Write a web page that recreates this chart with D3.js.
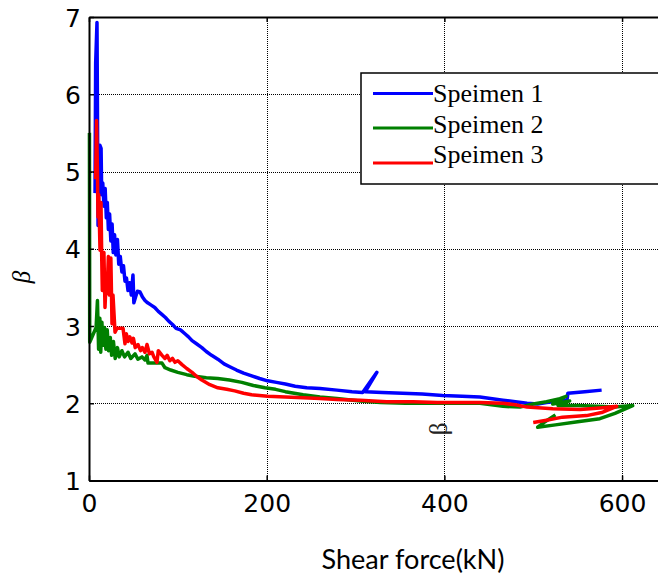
<!DOCTYPE html>
<html>
<head>
<meta charset="utf-8">
<script src="https://cdn.jsdelivr.net/npm/d3@7/dist/d3.min.js"></script>
<style>
  html, body { margin: 0; padding: 0; background: #fff; }
  svg { display: block; }
</style>
</head>
<body>
<div id="chart"></div>
<script>
// beta vs shear force, three specimens

const xTicks = [0, 200, 400, 600];
const yTicks = [1, 2, 3, 4, 5, 6, 7];
const seriesNames = ['Speimen 1', 'Speimen 2', 'Speimen 3'];
const seriesColors = ['#0000ff', '#008000', '#ff0000'];

// [shear force kN, beta]
const specimen1 = [
  [6.8,4.72],[7.5,6.40],[9.0,6.93],[9.6,5.6],[10.2,4.30],[11.2,5.0],[12.2,5.34],[13.6,5.30],
  [14.3,4.70],[15.5,4.85],[16.8,4.55],[18.2,4.78],[19.5,4.40],[20.6,4.60],[21.8,4.25],[23.2,4.45],
  [24.6,4.10],[26.0,4.32],[27.3,3.95],[28.8,4.18],[30.2,3.92],[32.0,4.12],[33.5,3.80],[35.2,3.90],
  [37.0,3.70],[38.8,3.78],[40.5,3.58],[42.2,3.62],[43.9,3.46],[45.8,3.56],[47.6,3.40],[49.5,3.66],
  [50.5,3.30],[52.5,3.38],[54.5,3.45],[57.4,3.44],[60,3.38],[63,3.33],[66,3.30],[70,3.27],
  [74,3.24],[78,3.19],[82,3.15],[86,3.11],[90,3.06],[94,3.02],[98,2.97],[103,2.95],[108,2.90],
  [112,2.86],[116,2.81],[121,2.77],[127,2.72],[132,2.67],[138,2.62],[145,2.57],[152,2.51],
  [159,2.47],[166,2.43],[174,2.39],[184,2.35],[192,2.32],[201,2.29],[211,2.27],[221,2.25],
  [232,2.22],[245,2.20],[260,2.19],[279,2.17],[296,2.15],[308,2.14],[324,2.40],[311,2.15],
  [330,2.14],[353,2.13],[375,2.12],[398,2.10],[420,2.09],[440,2.08],[466,2.04],[480,2.02],
  [493,2.00],[505,1.99],[515,2.01],[538,2.04],[539,2.13],[558,2.15],[577,2.17]
];

const specimen2 = [
  [0.5,5.5],[0.8,2.79],[8.0,2.98],[9.5,3.33],[10.8,2.70],[12.2,3.10],[13.2,2.66],[14.5,3.05],
  [16.0,2.75],[17.5,2.98],[19.0,2.70],[20.5,2.95],[22.0,2.68],[24.0,2.85],[25.5,2.62],[27.5,2.80],
  [29.5,2.58],[32,2.72],[34,2.60],[37,2.68],[40,2.60],[43.9,2.66],[47,2.58],[51.8,2.64],
  [55,2.57],[59.6,2.60],[63,2.56],[65.3,2.62],[66.4,2.52],[82.2,2.52],[85.5,2.46],[92,2.43],
  [100,2.40],[110,2.37],[119,2.35],[132,2.33],[145,2.32],[158,2.30],[172,2.27],[185,2.23],
  [198,2.20],[210,2.18],[221,2.15],[241,2.11],[260,2.08],[279,2.06],[305,2.03],[328,2.01],
  [356,2.00],[384,2.00],[412,2.00],[440,2.00],[466,1.96],[485,1.95],[500,1.99],[515,2.02],
  [530,2.06],[537,2.09],[522,1.99],[541,2.03],[528,1.97],[550,1.97],[572,1.96],[592,1.95],
  [612,1.97],[592,1.87],[575,1.80],[550,1.76],[525,1.72],[505,1.69],[512,1.75],[525,1.85]
];

const specimen3 = [
  [7.5,4.9],[8.5,5.66],[9.5,5.0],[10.1,4.41],[11.0,4.70],[12.4,3.98],[13.5,4.60],[14.3,3.90],
  [15.0,3.46],[15.8,3.72],[16.8,3.95],[18.0,3.24],[19.0,3.50],[20.3,3.42],[21.8,3.90],[23.0,3.40],
  [24.6,3.88],[25.9,3.03],[27.0,3.40],[29.3,2.92],[31.5,2.97],[38.3,2.97],[40.5,2.77],[42,2.90],
  [44,2.80],[46,2.86],[48.4,2.78],[50,2.84],[52,2.72],[55.2,2.76],[58,2.68],[60,2.72],[63,2.66],
  [65.3,2.76],[68,2.64],[70.9,2.66],[73,2.60],[76.5,2.53],[78,2.68],[82.2,2.62],[85.5,2.58],
  [88,2.62],[91,2.55],[94,2.58],[96.8,2.53],[100,2.55],[104.7,2.50],[110,2.45],[116,2.40],
  [121,2.35],[127,2.30],[136,2.24],[145,2.20],[155,2.18],[164,2.16],[174,2.13],[183,2.11],
  [201,2.09],[221,2.08],[241,2.07],[260,2.06],[279,2.05],[305,2.04],[335,2.02],[365,2.02],
  [392,2.01],[440,2.01],[466,2.00],[480,1.98],[493,1.95],[522,1.93],[553,1.92],[575,1.94],
  [594,1.96],[577,1.88],[560,1.84],[533,1.82],[515,1.78],[500,1.75]
];

const allSeries = [specimen1, specimen2, specimen3];

const width = 658;
const height = 577;

const svg = d3.select('#chart')
  .append('svg')
  .attr('width', width)
  .attr('height', height);

const x = d3.scaleLinear().domain([0, 640]).range([89, 657.6]);
const y = d3.scaleLinear().domain([1, 7]).range([480.5, 17]);

// grid (dotted), snapped to half pixels so the dots stay crisp
const snap = v => Math.round(v) + 0.5;
const grid = svg.append('g').attr('class', 'grid').attr('shape-rendering', 'crispEdges');
grid.selectAll('line.vx')
  .data(xTicks.filter(d => d > 0))
  .enter().append('line')
  .attr('x1', d => snap(x(d))).attr('x2', d => snap(x(d)))
  .attr('y1', y(7)).attr('y2', y(1))
  .attr('stroke', '#000').attr('stroke-width', 1)
  .attr('stroke-dasharray', '1,1');
grid.selectAll('line.hy')
  .data(yTicks.filter(d => d > 1 && d < 7))
  .enter().append('line')
  .attr('x1', x(0)).attr('x2', width)
  .attr('y1', d => snap(y(d))).attr('y2', d => snap(y(d)))
  .attr('stroke', '#000').attr('stroke-width', 1)
  .attr('stroke-dasharray', '1,1');

// series lines
const line = d3.line().x(d => x(d[0])).y(d => y(d[1]));
svg.append('g').selectAll('path')
  .data(allSeries)
  .enter().append('path')
  .attr('d', line)
  .attr('fill', 'none')
  .attr('stroke', (d, i) => seriesColors[i])
  .attr('stroke-width', 3.5)
  .attr('stroke-linejoin', 'round');

// axes frame
const axisFont = '"DejaVu Sans", sans-serif';
const xAxis = svg.append('g')
  .attr('transform', `translate(0,${y(1)})`)
  .call(d3.axisBottom(x).tickValues(xTicks).tickFormat(d3.format('d'))
    .tickSizeInner(-5).tickSizeOuter(0).tickPadding(14));
const yAxis = svg.append('g')
  .attr('transform', `translate(${x(0)},0)`)
  .call(d3.axisLeft(y).tickValues(yTicks).tickFormat(d3.format('d'))
    .tickSizeInner(-5).tickSizeOuter(0).tickPadding(8));
const topAxis = svg.append('g')
  .attr('transform', `translate(0,${y(7)})`)
  .call(d3.axisTop(x).tickValues(xTicks).tickSizeInner(-5).tickSizeOuter(0).tickFormat(''));

[xAxis, yAxis, topAxis].forEach(g => {
  g.select('.domain').attr('stroke', '#000').attr('stroke-width', 2);
  g.selectAll('.tick line').attr('stroke', '#000').attr('stroke-width', 1.5);
  g.selectAll('.tick text')
    .attr('fill', '#000')
    .style('font-family', axisFont)
    .style('font-size', '25px');
});
yAxis.selectAll('.tick text').attr('dy', '0.36em');

// axis titles
svg.append('text')
  .attr('x', 413)
  .attr('y', 569)
  .attr('text-anchor', 'middle')
  .attr('textLength', 183)
  .attr('lengthAdjust', 'spacingAndGlyphs')
  .style('font-family', 'Lato, "Open Sans", sans-serif')
  .style('font-size', '26px')
  .attr('fill', '#000')
  .text('Shear force(kN)');

svg.append('text')
  .attr('transform', 'translate(30,277) rotate(-90)')
  .attr('text-anchor', 'middle')
  .style('font-family', '"Liberation Serif", serif')
  .style('font-style', 'italic')
  .style('font-size', '25px')
  .attr('fill', '#000')
  .text('β');

// stray beta inside the plot
svg.append('text')
  .attr('transform', 'translate(447,429) rotate(-90)')
  .attr('text-anchor', 'middle')
  .style('font-family', '"Liberation Serif", serif')
  .style('font-size', '25px')
  .attr('fill', '#222')
  .text('β');

// legend
const legend = svg.append('g');
legend.append('rect')
  .attr('x', 361).attr('y', 73)
  .attr('width', 310).attr('height', 111)
  .attr('fill', '#fff')
  .attr('stroke', '#000').attr('stroke-width', 1.5);

const legendLineY = [93.5, 128, 163];
const legendTextY = [101.5, 132.5, 162.5];
seriesNames.forEach((name, i) => {
  legend.append('line')
    .attr('x1', 373).attr('x2', 433)
    .attr('y1', legendLineY[i]).attr('y2', legendLineY[i])
    .attr('stroke', seriesColors[i]).attr('stroke-width', 3);
  legend.append('text')
    .attr('x', 433).attr('y', legendTextY[i])
    .style('font-family', '"Liberation Serif", "Times New Roman", serif')
    .style('font-size', '26px')
    .attr('fill', '#000')
    .text(name);
});
</script>
</body>
</html>
